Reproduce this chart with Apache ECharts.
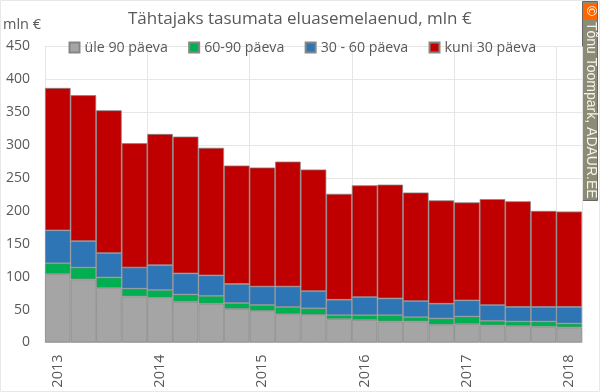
<!DOCTYPE html>
<html><head><meta charset="utf-8">
<style>html,body{margin:0;padding:0;background:#fff}#c{width:600px;height:392px}</style>
<script src="https://cdn.jsdelivr.net/npm/echarts@6/dist/echarts.min.js"></script>
</head><body><div id="c"></div>
<script>
const years = ['2013','','','','2014','','','','2015','','','','2016','','','','2017','','','','2018'];
const over90  = [104,96,83,70,68,62,59,51,48,43,42,35.5,34,32,32,27,28,26,25,24,23];
const d60to90 = [16.5,18,16,12,12,11,12,9,9,11,10,6,7.5,9.5,6.5,9.5,11.5,7,7,8,6];
const d30to60 = [50,40,37,32,37.5,32,31,29,28,31,26,23.5,27.5,25.5,24.5,22.5,24.5,24,22,22,25];
const upTo30  = [216.5,222,217,189,199.5,208,194,180,181,190,185,161,170,173,165,157,149,161,160.7,146,145];
const seriesNames = ['üle 90 päeva','60-90 päeva','30 - 60 päeva','kuni 30 päeva'];
const seriesData = [over90,d60to90,d30to60,upTo30];
const colors = ['#A5A5A5','#00B050','#2E75B6','#C00000'];
const font = '"Open Sans"';
const chart = echarts.init(document.getElementById('c'),null,{renderer:'canvas'});
chart.setOption({
  animation:false,
  backgroundColor:'#fff',
  title:{text:'Tähtajaks tasumata eluasemelaenud, mln €',left:128,top:7,padding:[4,0,0,0],
    textStyle:{fontFamily:font,fontSize:17,fontWeight:'normal',color:'#595959'}},
  legend:{top:40.5,left:68.5,padding:0,itemWidth:10,itemHeight:10,itemGap:20.3,icon:'rect',
    data:seriesNames,
    textStyle:{fontFamily:font,fontSize:14.2,color:'#595959'}},
  grid:{left:45,right:18,top:46.5,bottom:49.5},
  xAxis:{type:'category',data:years,boundaryGap:true,
    axisLine:{show:true,lineStyle:{color:'#D9D9D9',width:1}},
    axisTick:{show:false},
    splitLine:{show:true,interval:3,lineStyle:{color:'#E6E6E6',width:1}},
    axisLabel:{interval:0,rotate:90,margin:12,fontFamily:font,fontSize:14.5,color:'#595959'}},
  yAxis:{type:'value',min:0,max:450,interval:50,
    name:'mln €',nameLocation:'end',nameGap:0,
    nameTextStyle:{fontFamily:font,fontSize:14.5,color:'#595959',align:'left',padding:[0,0,14,-42]},
    axisLine:{show:false},axisTick:{show:false},
    splitLine:{lineStyle:{color:'#E6E6E6',width:1}},
    axisLabel:{margin:15,fontFamily:font,fontSize:14,color:'#595959'}},
  series:seriesNames.map((n,i)=>({name:n,type:'bar',stack:'t',data:seriesData[i],
    barWidth:'100%',itemStyle:{color:colors[i],borderColor:'#868686',borderWidth:0.75},
    emphasis:{disabled:true}})),
  graphic:[
    {type:'rect',shape:{x:0.5,y:0.5,width:599,height:391},style:{fill:'none',stroke:'#E8E8E8',lineWidth:1},silent:true},
    {type:'rect',shape:{x:582.5,y:1.5,width:15,height:199},style:{fill:'#8C8C76',stroke:'#666',lineWidth:1},silent:true},
    {type:'rect',shape:{x:584,y:3,width:13,height:16},style:{fill:'#FF6600'},silent:true},
    {type:'text',x:590.5,y:11,rotation:-Math.PI/2,style:{text:'©',fill:'#fff',font:'13px '+font,align:'center',verticalAlign:'middle'},silent:true},
    {type:'text',x:590.5,y:22,rotation:-Math.PI/2,style:{text:'Tõnu Toompark, ADAUR.EE',fill:'#F4F4EE',font:'14px "Liberation Sans"',align:'left',verticalAlign:'middle'},silent:true}
  ]
});
</script></body></html>
